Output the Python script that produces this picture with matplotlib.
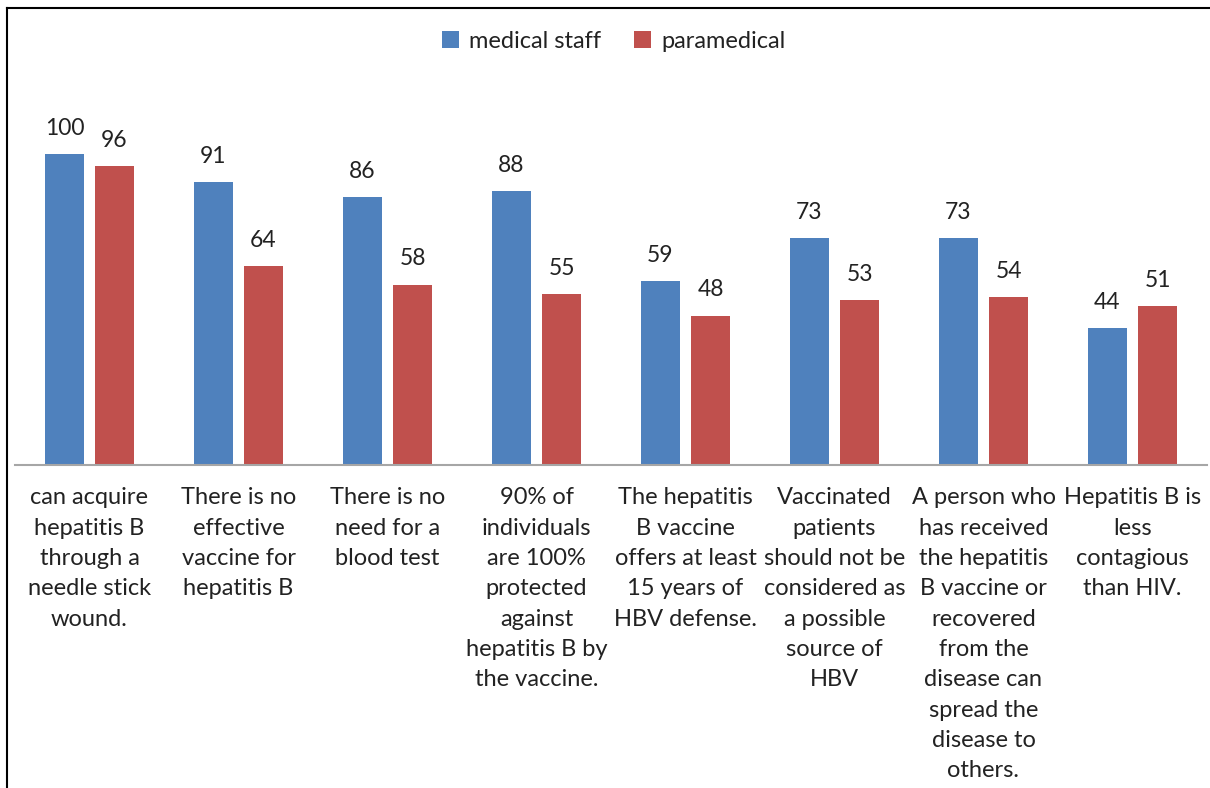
import numpy as np
import matplotlib.pyplot as plt

plt.rcParams['font.family'] = ['Lato', 'DejaVu Sans']

categories = [
    "can acquire\nhepatitis B\nthrough a\nneedle stick\nwound.",
    "There is no\neffective\nvaccine for\nhepatitis B",
    "There is no\nneed for a\nblood test",
    "90% of\nindividuals\nare 100%\nprotected\nagainst\nhepatitis B by\nthe vaccine.",
    "The hepatitis\nB vaccine\noffers at least\n15 years of\nHBV defense.",
    "Vaccinated\npatients\nshould not be\nconsidered as\na possible\nsource of\nHBV",
    "A person who\nhas received\nthe hepatitis\nB vaccine or\nrecovered\nfrom the\ndisease can\nspread the\ndisease to\nothers.",
    "Hepatitis B is\nless\ncontagious\nthan HIV.",
]
medical_staff = [100, 91, 86, 88, 59, 73, 73, 44]
paramedical = [96, 64, 58, 55, 48, 53, 54, 51]

blue = '#4F81BD'
red = '#C0504D'

W, H = 1210, 788
fig = plt.figure(figsize=(W / 100, H / 100), dpi=100)
ax = fig.add_axes([15 / W, (H - 465) / H, (1207 - 15) / W, (465 - 60) / H])

x = np.arange(len(categories))
bw = 0.268
off = 0.168
b1 = ax.bar(x - off, medical_staff, bw, color=blue, label='medical staff')
b2 = ax.bar(x + off, paramedical, bw, color=red, label='paramedical')

for bars, vals in ((b1, medical_staff), (b2, paramedical)):
    for rect, v in zip(bars, vals):
        ax.annotate(str(v), (rect.get_x() + rect.get_width() / 2, v),
                    xytext=(0, 11), textcoords='offset points',
                    ha='center', va='bottom', fontsize=16.5, color='#222222')

ax.set_xlim(-0.5, len(categories) - 0.5)
ax.set_ylim(0, 130.2)
ax.set_yticks([])
ax.set_xticks(x)
ax.set_xticklabels(categories, fontsize=17, linespacing=1.55, color='#222222')
ax.tick_params(axis='x', length=0, pad=16)
for s in ('top', 'right', 'left'):
    ax.spines[s].set_visible(False)
ax.spines['bottom'].set_color('#A6A6A6')
ax.spines['bottom'].set_linewidth(1.5)

leg = fig.legend(loc='center', bbox_to_anchor=(614 / W, 1 - 41 / H), ncol=2,
                 frameon=False, fontsize=17, handlelength=0.7, handleheight=0.7,
                 handletextpad=0.45, columnspacing=1.4)
for t in leg.get_texts():
    t.set_color('#222222')

# outer frame (left and top edges visible)
fig.add_artist(plt.Line2D([7 / W, 7 / W], [0, 1 - 8 / H], transform=fig.transFigure,
                          color='black', linewidth=1.5))
fig.add_artist(plt.Line2D([7 / W, 1], [1 - 8 / H, 1 - 8 / H], transform=fig.transFigure,
                          color='black', linewidth=1.5))

fig.savefig('out.png', dpi=100)
